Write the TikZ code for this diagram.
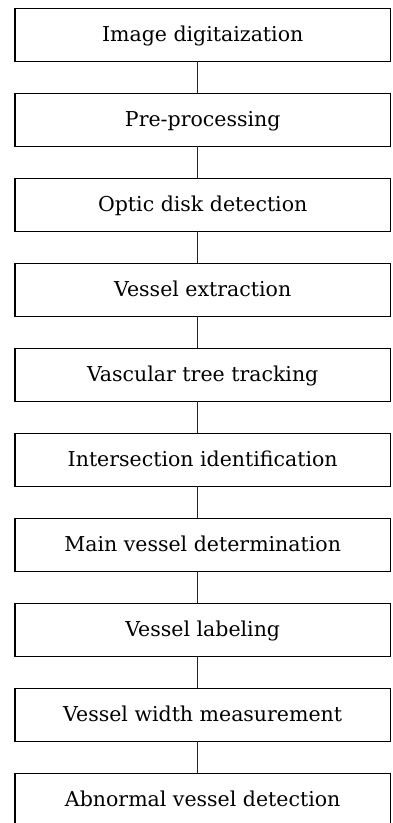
\documentclass[tikz,border=0pt]{standalone}
\usepackage{fontspec}
\setmainfont{DejaVu Serif}
\usepackage{tikz}
\usetikzlibrary{matrix}
\tikzstyle{stage} = [draw, line width=1.4pt, outer sep=0pt, minimum width=375pt, minimum height=53pt, inner sep=0pt, text height=14.5pt, text depth=0pt, font=\fontsize{20.5}{24}\selectfont]
\tikzstyle{link} = [line width=0.9pt, draw=black!85]

\begin{document}
\begin{tikzpicture}
	\useasboundingbox (0,0) rectangle (392pt,-823pt);
		\matrix (flow) [%
		matrix of nodes,
		nodes=stage,
		row sep=30.6pt,
		inner sep=0pt,
		anchor=north west,
		]
		at (14.3pt,-7.3pt)
		{
			Image digitaization \\
			Pre-processing \\
			Optic disk detection \\
			Vessel extraction \\
			Vascular tree tracking \\
			Intersection identification \\
			Main vessel determination \\
			Vessel labeling \\
			Vessel width measurement \\
			Abnormal vessel detection \\
		};
		\draw[link] ([xshift=-5pt]flow-1-1.south) -- ([xshift=-5pt]flow-2-1.north);
		\draw[link] ([xshift=-5pt]flow-2-1.south) -- ([xshift=-5pt]flow-3-1.north);
		\draw[link] ([xshift=-5pt]flow-3-1.south) -- ([xshift=-5pt]flow-4-1.north);
		\draw[link] ([xshift=-5pt]flow-4-1.south) -- ([xshift=-5pt]flow-5-1.north);
		\draw[link] ([xshift=-5pt]flow-5-1.south) -- ([xshift=-5pt]flow-6-1.north);
		\draw[link] ([xshift=-5pt]flow-6-1.south) -- ([xshift=-5pt]flow-7-1.north);
		\draw[link] ([xshift=-5pt]flow-7-1.south) -- ([xshift=-5pt]flow-8-1.north);
		\draw[link] ([xshift=-5pt]flow-8-1.south) -- ([xshift=-5pt]flow-9-1.north);
		\draw[link] ([xshift=-5pt]flow-9-1.south) -- ([xshift=-5pt]flow-10-1.north);
	\end{tikzpicture}
\end{document}
